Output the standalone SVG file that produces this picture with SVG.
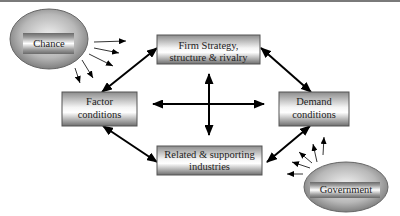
<svg xmlns="http://www.w3.org/2000/svg" width="400" height="216" viewBox="0 0 400 216">
<style>
.box{fill:url(#boxg);stroke:#555;stroke-width:1}
.ell{fill:url(#ellg);stroke:#666;stroke-width:1}
.band{fill:url(#bandg)}
text{font-family:'Liberation Serif','DejaVu Serif',serif;font-size:10.5px;fill:#222;text-anchor:middle}
.thick{stroke:#000;stroke-width:2;fill:none;marker-start:url(#ah);marker-end:url(#ah)}
.thin{stroke:#000;stroke-width:0.8;fill:none;marker-end:url(#sh)}
</style>
<defs>
<linearGradient id="boxg" x1="0" y1="0" x2="0" y2="1">
<stop offset="0" stop-color="#8c8c8c"/>
<stop offset="0.45" stop-color="#f4f4f4"/>
<stop offset="0.6" stop-color="#ffffff"/>
<stop offset="1" stop-color="#6e6e6e"/>
</linearGradient>
<radialGradient id="ellg" cx="0.5" cy="0.45" r="0.6">
<stop offset="0" stop-color="#f0f0f0"/>
<stop offset="0.6" stop-color="#b8b8b8"/>
<stop offset="1" stop-color="#707070"/>
</radialGradient>
<linearGradient id="bandg" x1="0" y1="0" x2="0" y2="1">
<stop offset="0" stop-color="#6a6a6a"/>
<stop offset="0.2" stop-color="#9a9a9a"/>
<stop offset="0.5" stop-color="#ffffff"/>
<stop offset="0.8" stop-color="#9a9a9a"/>
<stop offset="1" stop-color="#6a6a6a"/>
</linearGradient>
<marker id="ah" markerUnits="userSpaceOnUse" markerWidth="11" markerHeight="9" refX="10" refY="4.5" orient="auto-start-reverse" viewBox="0 0 11 9">
<path d="M0,0 L11,4.5 L0,9 z" fill="#000"/>
</marker>
<marker id="sh" markerUnits="userSpaceOnUse" markerWidth="7" markerHeight="6" refX="7" refY="3" orient="auto" viewBox="0 0 7 6">
<path d="M0,0 L7,3 L0,6 z" fill="#000"/>
</marker>
</defs>
<rect x="0" y="0" width="400" height="216" fill="#fff"/>
<line x1="0" y1="1" x2="400" y2="1" stroke="#7a7a7a" stroke-width="2"/>
<g id="connectors">
<line class="thick" x1="157" y1="48" x2="102" y2="92"/>
<line class="thick" x1="261" y1="48" x2="311" y2="92"/>
<line class="thick" x1="103" y1="126" x2="157" y2="162"/>
<line class="thick" x1="310" y1="126" x2="267" y2="162"/>
<line class="thick" x1="153" y1="104" x2="264" y2="104"/>
<line class="thick" x1="209" y1="74" x2="209" y2="135"/>
<line class="thin" x1="94" y1="42" x2="126" y2="41"/>
<line class="thin" x1="94" y1="48" x2="119" y2="53"/>
<line class="thin" x1="89" y1="54" x2="113" y2="66"/>
<line class="thin" x1="82" y1="60" x2="93" y2="78"/>
<line class="thin" x1="75" y1="68" x2="80" y2="83"/>
<line class="thin" x1="303" y1="174" x2="287" y2="174"/>
<line class="thin" x1="310" y1="168" x2="292" y2="162"/>
<line class="thin" x1="312" y1="163" x2="299" y2="152"/>
<line class="thin" x1="317" y1="162" x2="313" y2="144"/>
<line class="thin" x1="323" y1="155" x2="324" y2="137"/>
</g>
<g id="chance">
<ellipse class="ell" cx="49" cy="39" rx="39" ry="30"/>
<rect class="band" x="23" y="33" width="51" height="21"/>
<text x="49" y="47">Chance</text>
</g>
<g id="firm">
<rect class="box" x="157" y="35" width="103" height="29"/>
<text x="208.5" y="48.5">Firm Strategy,</text>
<text x="208.5" y="61">structure &amp; rivalry</text>
</g>
<g id="factor">
<rect class="box" x="62" y="92" width="75" height="34"/>
<text x="99.5" y="105">Factor</text>
<text x="99.5" y="118">conditions</text>
</g>
<g id="demand">
<rect class="box" x="279" y="92" width="70" height="34"/>
<text x="314" y="105">Demand</text>
<text x="314" y="118">conditions</text>
</g>
<g id="related">
<rect class="box" x="157" y="146" width="105" height="29"/>
<text x="209.5" y="157.5">Related &amp; supporting</text>
<text x="209.5" y="169.5">industries</text>
</g>
<g id="government">
<ellipse class="ell" cx="346" cy="187" rx="42" ry="25"/>
<rect class="band" x="310" y="182" width="70" height="16"/>
<text x="346" y="193">Government</text>
</g>
</svg>
